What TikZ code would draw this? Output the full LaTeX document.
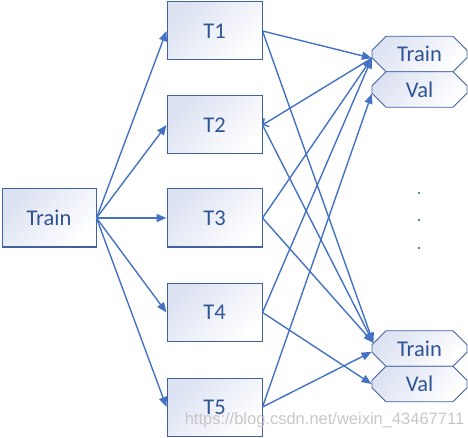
\documentclass[tikz,border=0pt]{standalone}
\usepackage{fontspec}
\setmainfont{Carlito}
\newfontfamily\markfont{Liberation Sans}
\usepackage{xcolor}
\usetikzlibrary{arrows.meta, shapes.misc}
\definecolor{linkblue}{HTML}{4472C4}
\definecolor{edgeblue}{HTML}{41619F}
\definecolor{textblue}{HTML}{2F5496}
\definecolor{boxfill}{HTML}{DCE2F2}
\tikzset{>={Triangle[length=10pt,width=8pt]}}
\tikzset{
	setbox/.style={draw=edgeblue, line width=1pt,
		top color=boxfill, bottom color=white, shading angle=45,
		minimum width=94pt, minimum height=58pt,
		text=textblue, font=\fontsize{22.5}{26}\selectfont},
	foldbox/.style={chamfered rectangle, chamfered rectangle xsep=7pt,
		chamfered rectangle ysep=7pt, draw=edgeblue, line width=0.8pt,
		top color=boxfill, bottom color=white, shading angle=45,
		minimum width=95pt, minimum height=35.5pt, inner sep=0pt,
		text=textblue, font=\fontsize{22.5}{26}\selectfont},
	link/.style={draw=linkblue, line width=1.4pt}
}

\begin{document}
\begin{tikzpicture}[x=1pt, y=-1pt]
\useasboundingbox (0,0) rectangle (468,438);
% whole training set and the five subsets
	\node[setbox] (train) at (49,218) {Train};
	\node[setbox, minimum width=95pt] (t1) at (214.5,31) {T1};
	\node[setbox, minimum width=95pt] (t2) at (214.5,125) {T2};
	\node[setbox, minimum width=95pt] (t3) at (214.5,218) {T3};
	\node[setbox, minimum width=95pt] (t4) at (214.5,312.5) {T4};
	\node[setbox, minimum width=95pt] (t5) at (214.5,407) {T5};

% train/val splits
	\node[foldbox] (trainA) at (419.5,54) {Train};
	\node[foldbox] (valA) at (419.5,89.5) {Val};
	\node[foldbox] (trainB) at (419.5,348.5) {Train};
	\node[foldbox] (valB) at (419.5,384) {Val};

	\fill[textblue] (419,193) circle (1.1pt);
	\fill[textblue] (419,220) circle (1.1pt);
	\fill[textblue] (419,248) circle (1.1pt);

	\draw[link, ->] (train.east) -- (t1.west);
	\draw[link, ->] (train.east) -- (t2.west);
	\draw[link, ->] (train.east) -- (t3.west);
	\draw[link, ->] (train.east) -- (t4.west);
	\draw[link, ->] (train.east) -- (t5.west);

	\draw[link, ->] (t1.east) -- (trainA.185);
	\draw[link, ->] (t1.east) -- (trainB.173);
	\draw[link, {Straight Barb[length=4pt,width=10pt]}-] (t2.east) -- (trainA.185);
	\draw[link, ->] (t2.east) -- (trainB.173);
	\draw[link, ->] (t3.east) -- (trainA.185);
	\draw[link, ->] (t3.east) -- (trainB.173);
	\draw[link, ->] (t4.east) -- (trainA.185);
	\draw[link, ->] (t4.east) -- (valB.west);
	\draw[link, ->] (t5.east) -- (valA.185);
	\draw[link, ->] (t5.east) -- (trainB.184);

	\node[text=black!22, font=\markfont\fontsize{16.5}{18}\selectfont] (mark) at (324.5,420) {https://blog.csdn.net/weixin\textunderscore 43467711};
\end{tikzpicture}
\end{document}
